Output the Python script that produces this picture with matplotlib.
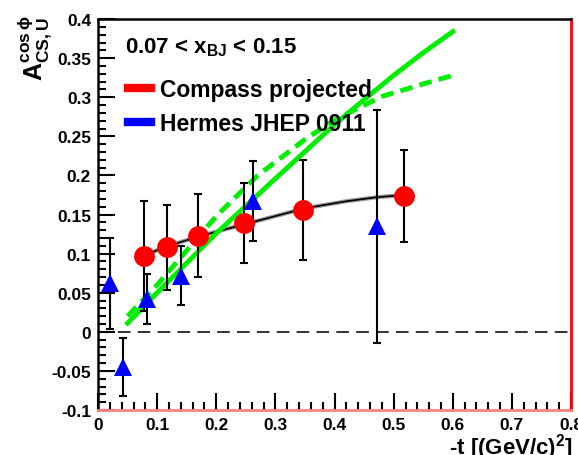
import numpy as np
import matplotlib
matplotlib.use("Agg")
import matplotlib.pyplot as plt
from matplotlib.lines import Line2D
from matplotlib.ticker import MultipleLocator

plt.rcParams['font.family'] = ['Liberation Sans', 'DejaVu Sans']
plt.rcParams['font.weight'] = 'bold'
plt.rcParams['mathtext.fontset'] = 'custom'
plt.rcParams['mathtext.rm'] = 'Liberation Sans:bold'
plt.rcParams['mathtext.it'] = 'Liberation Sans:bold'
plt.rcParams['mathtext.bf'] = 'Liberation Sans:bold'
plt.rcParams['mathtext.default'] = 'rm'

# Compass projected
compass_t = [0.078, 0.117, 0.169, 0.247, 0.346, 0.517]
compass_a = [0.097, 0.108, 0.123, 0.139, 0.156, 0.174]
compass_err = [0.070, 0.054, 0.053, 0.051, 0.064, 0.059]

# Hermes JHEP 0911
hermes_t = [0.020, 0.042, 0.083, 0.140, 0.262, 0.471]
hermes_a = [0.062, -0.045, 0.042, 0.072, 0.167, 0.135]
hermes_err = [0.058, 0.037, 0.032, 0.038, 0.051, 0.149]

# fit through Compass points
fit_t = [0.078, 0.12, 0.17, 0.25, 0.30, 0.35, 0.42, 0.47, 0.517]
fit_a = [0.098, 0.110, 0.122, 0.138, 0.148, 0.158, 0.167, 0.172, 0.175]

# model curves
model_t = [0.05, 0.10, 0.20, 0.30, 0.40, 0.45, 0.50, 0.55, 0.60]
model_solid = [0.011, 0.050, 0.126, 0.196, 0.265, 0.297, 0.328, 0.357, 0.384]
dash_t = [0.05, 0.10, 0.20, 0.27, 0.35, 0.40, 0.48, 0.55, 0.60]
model_dash = [0.020, 0.060, 0.148, 0.200, 0.246, 0.271, 0.301, 0.317, 0.328]

fig = plt.figure(figsize=(5.78, 4.56), dpi=100)
ax = fig.add_axes([0.1696, 0.0987, 0.8184, 0.8573])

ax.axhline(0, color='#222222', lw=1.3, ls=(0, (7, 4)), zorder=1)

ax.plot(fit_t, fit_a, color='#999999', lw=3.0, zorder=2)
ax.plot(fit_t, fit_a, color='black', lw=1.2, zorder=2)

ax.plot(model_t, model_solid, color='#00ee00', lw=3.5, zorder=3)
ax.plot(dash_t, model_dash, color='#00ee00', lw=3.5, ls=(0, (2.6, 1.5)), zorder=3)

ax.errorbar(hermes_t, hermes_a, yerr=hermes_err, fmt='none', ecolor='black',
            elinewidth=1.5, capsize=3, capthick=1.5, zorder=4)
ax.plot(hermes_t, hermes_a, ls='none', marker='^', color='#0000ff', ms=13, mew=0, zorder=5)

ax.errorbar(compass_t, compass_a, yerr=compass_err, fmt='none', ecolor='black',
            elinewidth=1.5, capsize=3, capthick=1.5, zorder=4)
ax.plot(compass_t, compass_a, ls='none', marker='o', color='#ff0000', ms=15, mew=0, zorder=5)

ax.set_xlim(0, 0.8)
ax.set_ylim(-0.1, 0.4)
ax.xaxis.set_major_locator(MultipleLocator(0.1))
ax.xaxis.set_minor_locator(MultipleLocator(0.02))
ax.yaxis.set_major_locator(MultipleLocator(0.05))
ax.yaxis.set_minor_locator(MultipleLocator(0.01))
ax.tick_params(which='both', direction='in', width=1.5, labelsize=12.5, pad=5)
ax.tick_params(which='major', length=12)
ax.tick_params(which='minor', length=6)
ax.set_xticks(np.arange(0, 0.81, 0.1))
ax.set_xticklabels(['0', '0.1', '0.2', '0.3', '0.4', '0.5', '0.6', '0.7', '0.8'])
ax.set_yticks(np.arange(-0.1, 0.401, 0.05))
ax.set_yticklabels(['-0.1', '-0.05', '0', '0.05', '0.1', '0.15', '0.2', '0.25', '0.3', '0.35', '0.4'])

for s in ['left', 'top']:
    ax.spines[s].set_linewidth(1.8)
ax.spines['right'].set_color('red')
ax.spines['right'].set_linewidth(2)
ax.spines['bottom'].set_color('#ff8080')
ax.spines['bottom'].set_linewidth(2)

ax.text(0.057, 0.93, '0.07 < x$_{BJ}$ < 0.15', transform=ax.transAxes, fontsize=16,
        va='center', ha='left')

handles = [Line2D([0], [0], color='red', lw=6), Line2D([0], [0], color='#0000ff', lw=6)]
ax.legend(handles, ['Compass projected', 'Hermes JHEP 0911'], loc='upper left',
          bbox_to_anchor=(0.063, 0.85), frameon=False, fontsize=16.5, handlelength=1.0,
          handletextpad=0.4, labelspacing=0.5, borderpad=0, borderaxespad=0)

fig.text(0.06, 0.965, r'A$_{CS,U}^{cos\,\phi}$', rotation=90, fontsize=18, ha='center', va='top')
fig.text(0.992, 0.0175, '-t [(GeV/c)$^{2}$]', fontsize=16, ha='right', va='center')

fig.savefig('out.png', dpi=100)
